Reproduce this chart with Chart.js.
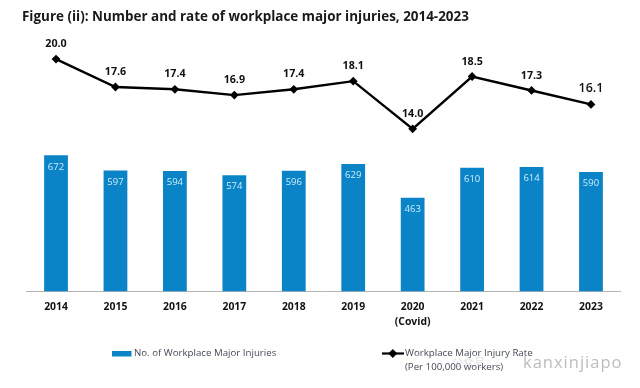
<!DOCTYPE html>
<html>
<head>
<meta charset="utf-8">
<style>html,body{margin:0;padding:0;background:#fff}#w{width:640px;height:388px;position:relative}</style>
<script src="https://cdn.jsdelivr.net/npm/chart.js@4/dist/chart.umd.min.js"></script>
</head>
<body>
<div id="w"><canvas id="c" width="640" height="388"></canvas></div>
<script>
const categories = [["2014"],["2015"],["2016"],["2017"],["2018"],["2019"],["2020","(Covid)"],["2021"],["2022"],["2023"]];
const injuries = [672,597,594,574,596,629,463,610,614,590];
const rates = [20.0,17.6,17.4,16.9,17.4,18.1,14.0,18.5,17.3,16.1];
const titleText = "Figure (ii): Number and rate of workplace major injuries, 2014-2023";
const barLegend = "No. of Workplace Major Injuries";
const lineLegend = ["Workplace Major Injury Rate","(Per 100,000 workers)"];
const FONT = '"Open Sans", "Noto Sans", sans-serif';
const BLUE = "#0a84c6";

const annotate = {
  id: "annotate",
  afterDatasetsDraw(chart) {
    const ctx = chart.ctx;
    ctx.save();
    ctx.textAlign = "center";
    ctx.textBaseline = "middle";
    const barMeta = chart.getDatasetMeta(1), lineMeta = chart.getDatasetMeta(0);
    ctx.font = "9.5px " + FONT;
    ctx.fillStyle = "#cdeefc";
    injuries.forEach((v, i) => ctx.fillText(String(v), barMeta.data[i].x, barMeta.data[i].y + 11.5));
    ctx.fillStyle = "#111";
    rates.forEach((v, i) => {
      ctx.font = (i === 9 ? "600 12.5px " : "bold 10.7px ") + FONT;
      ctx.fillText(v.toFixed(1), lineMeta.data[i].x, lineMeta.data[i].y - (i === 9 ? 16 : 15));
    });
    // legend
    ctx.textAlign = "left";
    ctx.fillStyle = BLUE;
    ctx.fillRect(112, 351, 19.5, 5.5);
    ctx.fillStyle = "#444a55";
    ctx.font = "9.7px " + FONT;
    ctx.fillText(barLegend, 134, 353.5);
    ctx.fillText(lineLegend[0], 405, 353.5);
    ctx.fillText(lineLegend[1], 405, 367);
    ctx.strokeStyle = "#000"; ctx.lineWidth = 2.2;
    ctx.beginPath(); ctx.moveTo(382, 353.5); ctx.lineTo(404, 353.5); ctx.stroke();
    ctx.fillStyle = "#000";
    ctx.beginPath(); ctx.moveTo(392.8, 349); ctx.lineTo(397.3, 353.5); ctx.lineTo(392.8, 358); ctx.lineTo(388.3, 353.5); ctx.closePath(); ctx.fill();
    // watermark
    ctx.fillStyle = "rgba(150,150,155,0.32)";
    ctx.font = '11px "Noto Sans CJK SC", sans-serif';
    ctx.fillText("公众号", 452, 363);
    ctx.fillStyle = "#bdbdc0";
    ctx.font = "16.5px " + FONT;
    ctx.letterSpacing = "1px";
    ctx.fillText("kanxinjiapo", 523, 363);
    ctx.restore();
  }
};

new Chart(document.getElementById("c"), {
  data: {
    labels: categories,
    datasets: [
      { type: "line", label: lineLegend.join(" "), data: rates, yAxisID: "yRate", order: 0,
        borderColor: "#000", backgroundColor: "#000", borderWidth: 2.4, tension: 0,
        pointStyle: "rectRot", pointRadius: 4.4, pointBackgroundColor: "#000", pointBorderWidth: 0 },
      { type: "bar", label: barLegend, data: injuries, yAxisID: "yCount", order: 1,
        backgroundColor: BLUE, categoryPercentage: 1, barPercentage: 0.4 }
    ]
  },
  options: {
    responsive: false,
    animation: false,
    layout: { padding: { left: 22, right: 0, top: 9, bottom: 0 } },
    plugins: {
      legend: { display: false },
      tooltip: { enabled: false },
      title: { display: true, text: titleText, align: "start", color: "#1a1a1a",
        font: { family: FONT, size: 13.45, weight: "bold", lineHeight: 1.2 },
        padding: { top: 0, bottom: 4.9 } }
    },
    scales: {
      x: {
        grid: { display: false, drawTicks: false },
        border: { display: true, color: "#b4b4b4", width: 1 },
        ticks: { color: "#111", padding: 9, maxRotation: 0, autoSkip: false,
          font: { family: FONT, size: 10.4, weight: "bold", lineHeight: 1.35 } },
        afterFit(s) { s.height = 96.5; }
      },
      yCount: {
        position: "left", min: 0, max: 1290,
        grid: { display: false }, border: { display: false },
        ticks: { display: false },
        afterFit(s) { s.width = 4.3; }
      },
      yRate: {
        position: "right", min: 0, max: 22.5,
        grid: { display: false }, border: { display: false },
        ticks: { display: false },
        afterFit(s) { s.width = 19.3; }
      }
    }
  },
  plugins: [annotate]
});
</script>
</body>
</html>
